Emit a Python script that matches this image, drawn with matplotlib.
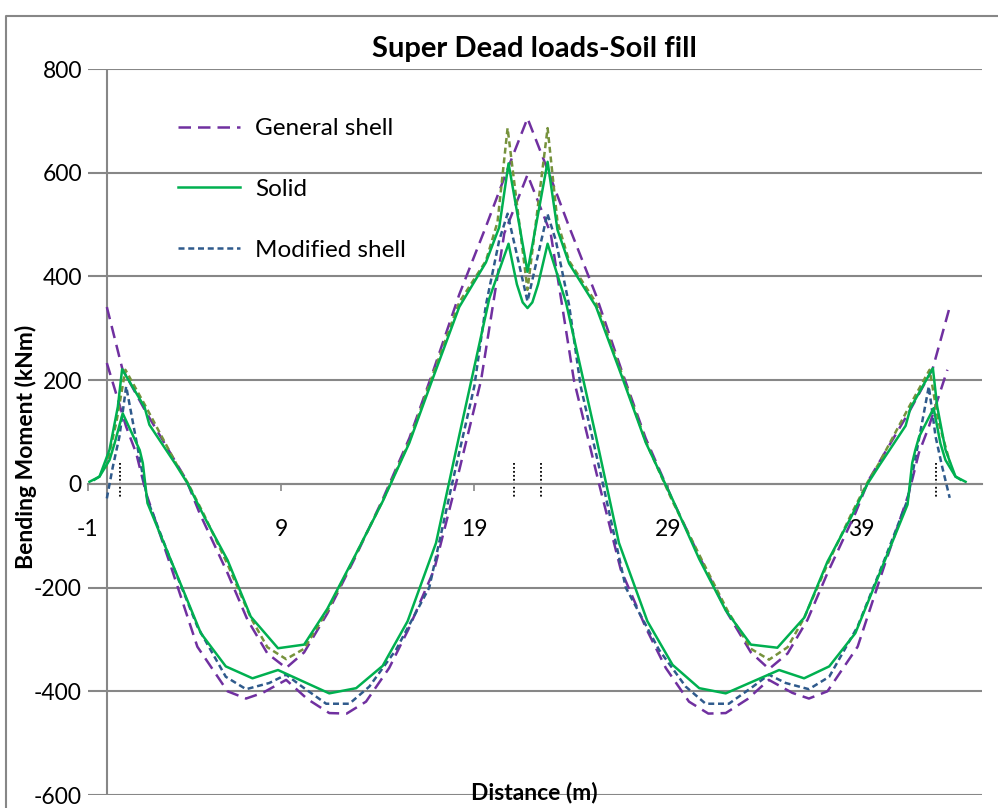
import matplotlib
matplotlib.use("Agg")
import matplotlib.pyplot as plt
from matplotlib.lines import Line2D

plt.rcParams['font.family'] = ['Lato', 'DejaVu Sans']
plt.rcParams['axes.unicode_minus'] = False

# General shell (two faces)
gs_top_x = [0, 0.8, 2.0, 4.1, 4.79, 6.24, 7.27, 8.3, 9.27, 10.2, 11.4, 12.8, 14.26, 15.64, 16.85, 18.22, 19.6, 20.7, 21.75,
            22.8, 23.9, 25.28, 26.65, 27.86, 29.24, 30.7, 32.1, 33.3, 34.24, 35.2, 36.23, 37.26, 38.71, 39.4, 41.5, 42.7, 43.58]
gs_top_y = [341, 222, 140, 8, -56, -172, -262, -327, -355, -325, -250, -145, -30, 88, 215, 365, 496, 605, 705,
            605, 496, 365, 215, 88, -30, -145, -250, -325, -357, -327, -262, -172, -56, 8, 140, 222, 341]
gs_bot_x = [0, 1.0, 1.52, 2.03, 3.31, 4.68, 6.24, 7.2, 8.06, 9.27, 10.37, 11.5, 12.4, 13.4, 14.6, 15.6, 16.93, 18.05, 19.35, 20.55, 21.75,
            22.95, 24.15, 25.45, 26.57, 27.9, 28.9, 30.1, 31.1, 32.0, 33.13, 34.23, 35.44, 36.3, 37.26, 38.82, 40.19, 41.47, 41.98, 42.5, 43.46]
gs_bot_y = [233, 110, 59, -18, -159, -314, -400, -414, -403, -378, -415, -442, -443, -420, -355, -280, -165, 0, 200, 483, 596,
            483, 200, 0, -165, -280, -355, -420, -443, -442, -415, -378, -403, -414, -400, -314, -159, -18, 59, 110, 220]

# Solid (two faces)
so_top_x = [-0.64, -0.38, 0.14, 0.57, 0.79, 1.95, 2.2, 3.57, 4.17, 5.03, 6.24, 7.44, 8.85, 10.2, 11.4, 12.8, 14.26, 15.64, 16.85, 18.22, 19.6, 20.29, 20.77, 21.75,
            22.79, 23.3, 23.9, 25.29, 26.65, 27.86, 29.25, 30.63, 32.0, 33.3, 34.67, 36.06, 37.26, 38.47, 39.33, 39.93, 41.3, 41.55, 42.71, 42.93, 43.36, 43.88, 44.14]
so_top_y = [8, 14, 66, 149, 221, 148, 114, 37, 1, -63, -147, -256, -317, -310, -241, -141, -34, 79, 203, 341, 427, 495, 618, 409,
            621, 490, 425, 342, 205, 80, -30, -145, -244, -310, -316, -258, -150, -65, 0, 35, 112, 146, 223, 150, 66, 14, 8]
so_bot_x = [-0.9, -0.38, 0.14, 0.4, 0.82, 1.7, 1.86, 2.1, 4.86, 6.15, 7.53, 8.85, 11.5, 12.89, 14.26, 15.55, 17.02, 18.22, 19.78, 20.77,
            21.2, 21.5, 21.75, 22.0, 22.3,
            22.79, 23.74, 25.28, 26.48, 27.95, 29.25, 30.63, 32.0, 34.76, 36.05, 37.35, 38.7, 41.4, 41.64, 41.8, 42.0, 42.75, 43.1, 43.36, 43.88, 44.4]
so_bot_y = [4, 14, 46, 78, 136, 65, 40, -37, -288, -352, -375, -359, -404, -394, -351, -265, -114, 93, 358, 463,
            385, 350, 339, 350, 385,
            463, 350, 93, -114, -265, -349, -394, -404, -359, -375, -352, -288, -40, 40, 65, 91, 146, 78, 46, 14, 4]

# Modified shell (two faces)
ms_bot_x = [0, 0.31, 0.65, 1.0, 1.58, 2.1, 3.3, 4.68, 6.15, 7.2, 8.4, 9.27, 10.13, 11.34, 12.54, 13.57, 14.95, 16.67, 17.85, 19.0, 19.6, 20.29, 20.72, 21.75,
            22.78, 23.21, 23.9, 24.5, 25.65, 26.83, 28.55, 29.93, 30.96, 32.16, 33.37, 34.23, 35.1, 36.3, 37.35, 38.82, 40.2, 41.4, 41.92, 42.5, 42.85, 43.19, 43.58]
ms_bot_y = [-28, 33, 91, 188, 72, -31, -147, -275, -372, -396, -384, -368, -392, -424, -424, -391, -320, -200, 0, 188, 345, 470, 521, 352,
            521, 470, 345, 188, 0, -200, -320, -391, -424, -424, -392, -368, -384, -396, -372, -275, -147, -31, 72, 188, 91, 33, -27]
ms_top_x = [-0.05, 0.5, 0.96, 2.0, 3.57, 4.17, 5.03, 6.24, 7.44, 8.3, 9.27, 10.2, 11.4, 12.8, 14.26, 15.64, 16.85, 18.22, 19.6, 20.2, 20.72, 21.75,
            22.79, 23.3, 23.9, 25.28, 26.65, 27.86, 29.24, 30.7, 32.1, 33.3, 34.24, 35.2, 36.06, 37.26, 38.47, 39.33, 39.93, 41.5, 42.54, 43.0, 43.6]
ms_top_y = [30, 120, 220, 150, 40, 3, -60, -155, -258, -315, -338, -318, -245, -142, -33, 82, 210, 350, 430, 505, 686, 374,
            686, 505, 430, 350, 210, 82, -33, -142, -245, -318, -339, -315, -258, -155, -60, 3, 40, 150, 220, 120, 40]

support_x = [0.67, 21.07, 22.45, 42.87]

xtick_vals = [-1, 9, 19, 29, 39]
ytick_vals = [-600, -400, -200, 0, 200, 400, 600, 800]

purple = '#7030A0'
green = '#00B050'
blue = '#2F5A8C'
olive = '#76923C'
grid_c = '#878787'

W, H = 998, 808
fig = plt.figure(figsize=(W / 100, H / 100), dpi=100)
ax = fig.add_axes([87.5 / W, (H - 795) / H, (982 - 87.5) / W, (795 - 69) / H])

ax.set_xlim(-1, 45.25)
ax.set_ylim(-600, 800)

for yv in ytick_vals:
    ax.axhline(yv, color=grid_c, lw=1.5, zorder=1)
ax.axvline(0, color=grid_c, lw=1.5, zorder=1)

for sx in support_x:
    ax.plot([sx, sx], [40, -25], color='black', lw=1.3, ls=(0, (1, 1.2)), zorder=2)

l_gs, = ax.plot(gs_top_x, gs_top_y, color=purple, lw=1.8, dashes=(5, 2.8), zorder=3, label='General shell')
ax.plot(gs_bot_x, gs_bot_y, color=purple, lw=1.8, dashes=(5, 2.8), zorder=3)
l_so, = ax.plot(so_top_x, so_top_y, color=green, lw=1.8, zorder=4, label='Solid')
ax.plot(so_bot_x, so_bot_y, color=green, lw=1.8, zorder=4)
l_ms, = ax.plot(ms_bot_x, ms_bot_y, color=blue, lw=1.8, dashes=(2.4, 1.5), zorder=3, label='Modified shell')
ax.plot(ms_top_x, ms_top_y, color=olive, lw=1.8, dashes=(2.4, 1.5), zorder=3)

for s in ['left', 'right', 'top']:
    ax.spines[s].set_visible(False)
ax.spines['bottom'].set_position(('data', 0))
ax.spines['bottom'].set_color(grid_c)
ax.spines['bottom'].set_linewidth(1.5)

ax.set_xticks(xtick_vals)
ax.set_yticks(ytick_vals)
ax.tick_params(axis='x', direction='out', length=5, width=1.2, color=grid_c, pad=20, labelsize=16.5)
ax.tick_params(axis='y', length=0, pad=4, labelsize=16.5)

ax.set_title('Super Dead loads-Soil fill', fontsize=21, fontweight='bold', pad=9)
ax.set_xlabel('Distance (m)', fontsize=16.5, fontweight='bold')
ax.xaxis.set_label_coords(0.5, 0.018)
ax.set_ylabel('Bending Moment (kNm)', fontsize=16.5, fontweight='bold')
ax.yaxis.set_label_coords(-0.057, 0.479)

ax.legend(handles=[l_gs, l_so, l_ms], loc='upper left', bbox_to_anchor=(178 / W, (H - 118) / H),
          bbox_transform=fig.transFigure, frameon=False, fontsize=17.5, handlelength=2.55,
          handletextpad=0.62, labelspacing=1.64, borderpad=0, borderaxespad=0)

fig.add_artist(Line2D([6 / W, 6 / W, 1], [0, 1 - 16 / H, 1 - 16 / H], transform=fig.transFigure,
                      color=grid_c, lw=1.5))

fig.savefig('out.png', dpi=100)
